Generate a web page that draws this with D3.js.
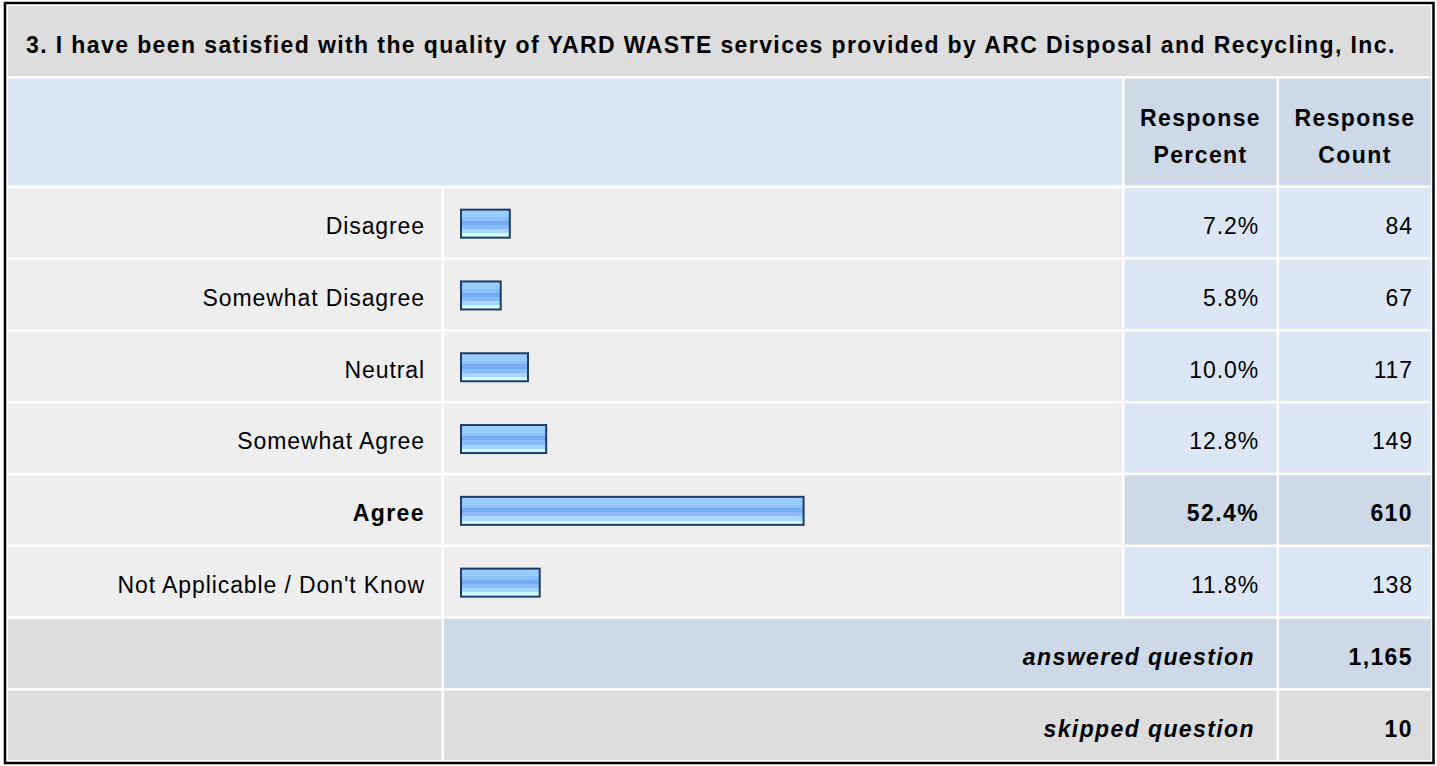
<!DOCTYPE html>
<html>
<head>
<meta charset="utf-8">
<script src="https://cdn.jsdelivr.net/npm/d3@7"></script>
<style>
  body { margin: 0; background: #fff; }
  text { font-family: "Liberation Sans", Arial, sans-serif; fill: #000; }
</style>
</head>
<body>
<div id="chart"></div>
<script>
// survey values
const question = "3. I have been satisfied with the quality of YARD WASTE services provided by ARC Disposal and Recycling, Inc.";
const answers = ["Disagree", "Somewhat Disagree", "Neutral", "Somewhat Agree", "Agree", "Not Applicable / Don't Know"];
const percents = [7.2, 5.8, 10.0, 12.8, 52.4, 11.8];
const counts = [84, 67, 117, 149, 610, 138];
const headers = [["Response", "Percent"], ["Response", "Count"]];
const summaryLabels = ["answered question", "skipped question"];
const summaryValues = [1165, 10];

const W = 1437, H = 766;
const fs = 23;

// column edges
const cols = [[8, 441.5], [444, 1122], [1124.5, 1276.5], [1279, 1431]];
const rowTop = 188, rowStep = 71.8, rowH = 69.3;

const svg = d3.select("#chart").append("svg")
    .attr("width", W)
    .attr("height", H);

// bar gradient (striped like the original gif)
const grad = svg.append("defs").append("linearGradient")
    .attr("id", "barfill")
    .attr("x1", 0).attr("y1", 0).attr("x2", 0).attr("y2", 1);
[[0, "#99ccff"], [0.28, "#99ccff"], [0.28, "#8cc0fa"], [0.4, "#8cc0fa"], [0.4, "#77aaee"], [0.55, "#77aaee"],
 [0.55, "#88bbf8"], [0.7, "#88bbf8"], [0.7, "#a6d6ff"], [0.85, "#a6d6ff"], [0.85, "#ccffff"], [1, "#ccffff"]]
  .forEach(s => grad.append("stop").attr("offset", s[0]).attr("stop-color", s[1]));

function cell(x0, x1, y0, h, color) {
  svg.append("rect")
    .attr("x", x0).attr("y", y0)
    .attr("width", x1 - x0).attr("height", h)
    .attr("fill", color);
}

function label(txt, x, y, anchor, opts) {
  opts = opts || {};
  return svg.append("text")
    .attr("x", x).attr("y", y)
    .attr("text-anchor", anchor)
    .style("font-size", fs + "px")
    .style("font-weight", opts.bold ? "bold" : "normal")
    .style("font-style", opts.italic ? "italic" : "normal")
    .style("letter-spacing", opts.bold ? "1.4px" : "0.9px")
    .text(txt);
}

const base = fs * 0.36 + 2;

// title row
cell(cols[0][0], cols[3][1], 6, 70, "#dddddd");
label(question, 26, 43 + base, "start", {bold: true});

// header row
const headTop = 78.5, headH = 107;
cell(cols[0][0], cols[1][1], headTop, headH, "#dce7f5");
cell(cols[2][0], cols[2][1], headTop, headH, "#cdd9e6");
cell(cols[3][0], cols[3][1], headTop, headH, "#cdd9e6");
headers.forEach((h, i) => {
  const cx = (cols[i + 2][0] + cols[i + 2][1]) / 2;
  label(h[0], cx, 116 + base, "middle", {bold: true});
  label(h[1], cx, 153 + base, "middle", {bold: true});
});

// answer rows
const x = d3.scaleLinear().domain([0, 100]).range([0, 650]);
const fmtPct = d => d3.format(".1f")(d) + "%";
const fmtCount = d3.format(",");
const maxPct = d3.max(percents);

answers.forEach((a, i) => {
  const y0 = rowTop + i * rowStep;
  const cy = y0 + rowH / 2 + 1;
  const hi = percents[i] === maxPct;
  cell(cols[0][0], cols[0][1], y0, rowH, "#eeeeee");
  cell(cols[1][0], cols[1][1], y0, rowH, "#eeeeee");
  cell(cols[2][0], cols[2][1], y0, rowH, hi ? "#cdd9e6" : "#dce7f5");
  cell(cols[3][0], cols[3][1], y0, rowH, hi ? "#cdd9e6" : "#dce7f5");

  label(a, 425, cy + base, "end", {bold: hi});
  label(fmtPct(percents[i]), 1259, cy + base, "end", {bold: hi});
  label(fmtCount(counts[i]), 1413, cy + base, "end", {bold: hi});

  const w = 4 + x(percents[i]);
  svg.append("rect")
    .attr("x", 461).attr("y", cy - 14)
    .attr("width", w - 2).attr("height", 28)
    .attr("fill", "url(#barfill)")
    .attr("stroke", "#203c64")
    .attr("stroke-width", 2);
});

// answered / skipped
summaryLabels.forEach((s, j) => {
  const y0 = rowTop + (answers.length + j) * rowStep;
  const cy = y0 + rowH / 2 + 1;
  const bg = j === 0 ? "#cdd9e6" : "#dddddd";
  cell(cols[0][0], cols[0][1], y0, rowH, "#dddddd");
  cell(cols[1][0], cols[2][1], y0, rowH, bg);
  cell(cols[3][0], cols[3][1], y0, rowH, bg);
  label(s, 1255, cy + base, "end", {bold: true, italic: true});
  label(fmtCount(summaryValues[j]), 1413, cy + base, "end", {bold: true});
});

// outer frame
svg.append("rect")
  .attr("x", 5).attr("y", 3)
  .attr("width", 1428.5).attr("height", 760)
  .attr("fill", "none")
  .attr("stroke", "#000")
  .attr("stroke-width", 2.5);
</script>
</body>
</html>
